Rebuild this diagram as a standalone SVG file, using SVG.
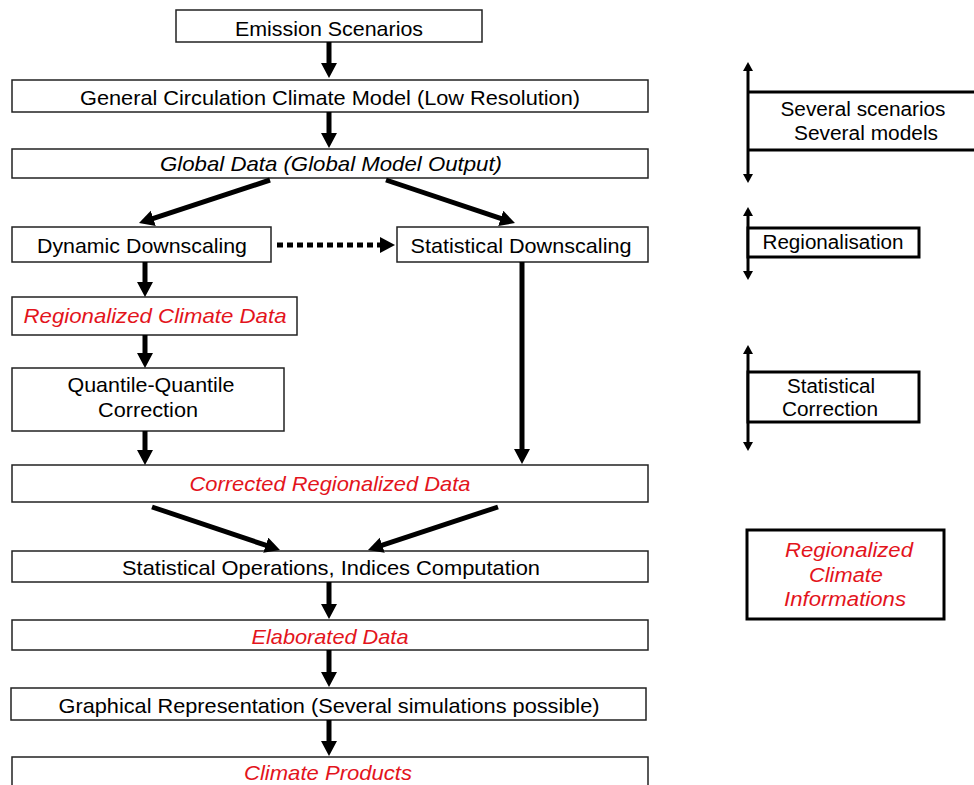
<svg xmlns="http://www.w3.org/2000/svg" width="974" height="785" viewBox="0 0 974 785">
<defs>
<style>
.box{fill:#fff;stroke:#222;stroke-width:1.5}
.rbox{fill:#fff;stroke:#000;stroke-width:3}
.t{font-family:"Liberation Sans",Arial,sans-serif;font-size:20px;fill:#000;text-anchor:middle}
.l{font-size:21px}
.i{font-style:italic}
.red{fill:#e3141c}
.arr{stroke:#000;stroke-width:5;fill:none;marker-end:url(#ah)}
.dot{stroke:#000;stroke-width:5;fill:none;stroke-dasharray:6 4;marker-end:url(#ah)}
.sarr{stroke:#000;stroke-width:3;fill:none;marker-end:url(#sm);marker-start:url(#sm)}
</style>
<marker id="ah" markerUnits="userSpaceOnUse" markerWidth="18" markerHeight="18" refX="3" refY="8" orient="auto"><path d="M0,0 L15,8 L0,16 z" fill="#000"/></marker>
<marker id="sm" markerUnits="userSpaceOnUse" markerWidth="12" markerHeight="12" refX="2" refY="5" orient="auto-start-reverse"><path d="M0,0 L9,5 L0,10 z" fill="#000"/></marker>
</defs>
<rect width="974" height="785" fill="#fff"/>

<g id="emission"><rect class="box" x="176" y="10" width="306" height="32"/><text class="t l" x="329" y="36" textLength="188" lengthAdjust="spacingAndGlyphs">Emission Scenarios</text></g>
<g id="gcm"><rect class="box" x="12" y="80" width="636" height="32"/><text class="t l" x="330" y="105" textLength="500" lengthAdjust="spacingAndGlyphs">General Circulation Climate Model (Low Resolution)</text></g>
<g id="global"><rect class="box" x="12" y="149" width="636" height="29"/><text class="t l i" x="331" y="171" textLength="342" lengthAdjust="spacingAndGlyphs">Global Data (Global Model Output)</text></g>
<g id="dynamic"><rect class="box" x="12" y="227" width="259" height="35"/><text class="t l" x="142" y="253" textLength="210" lengthAdjust="spacingAndGlyphs">Dynamic Downscaling</text></g>
<g id="statdown"><rect class="box" x="397" y="227" width="251" height="35"/><text class="t l" x="521" y="253" textLength="221" lengthAdjust="spacingAndGlyphs">Statistical Downscaling</text></g>
<g id="regdata"><rect class="box" x="12" y="297" width="285" height="38"/><text class="t l i red" x="155" y="323" textLength="263" lengthAdjust="spacingAndGlyphs">Regionalized Climate Data</text></g>
<g id="qq"><rect class="box" x="12" y="368" width="272" height="63"/><text class="t l" x="151" y="392" textLength="167" lengthAdjust="spacingAndGlyphs">Quantile-Quantile</text><text class="t l" x="148" y="417" textLength="100" lengthAdjust="spacingAndGlyphs">Correction</text></g>
<g id="corrected"><rect class="box" x="12" y="465" width="636" height="37"/><text class="t l i red" x="330" y="491" textLength="281" lengthAdjust="spacingAndGlyphs">Corrected Regionalized Data</text></g>
<g id="statops"><rect class="box" x="12" y="551" width="636" height="31"/><text class="t l" x="331" y="575" textLength="418" lengthAdjust="spacingAndGlyphs">Statistical Operations, Indices Computation</text></g>
<g id="elaborated"><rect class="box" x="12" y="620" width="636" height="30"/><text class="t l i red" x="330" y="644" textLength="157" lengthAdjust="spacingAndGlyphs">Elaborated Data</text></g>
<g id="graphical"><rect class="box" x="11" y="688" width="635" height="32"/><text class="t l" x="329" y="713" textLength="541" lengthAdjust="spacingAndGlyphs">Graphical Representation (Several simulations possible)</text></g>
<g id="products"><rect class="box" x="12" y="757" width="636" height="40"/><text class="t l i red" x="328" y="780" textLength="168" lengthAdjust="spacingAndGlyphs">Climate Products</text></g>

<g id="connectors">
<line class="arr" x1="329" y1="42" x2="329" y2="66"/>
<line class="arr" x1="329" y1="112" x2="329" y2="136"/>
<line class="arr" x1="270" y1="180" x2="150.4" y2="219.3"/>
<line class="arr" x1="386" y1="180" x2="503.6" y2="219.3"/>
<line class="dot" x1="277" y1="245" x2="383" y2="245"/>
<line class="arr" x1="145" y1="262" x2="145" y2="285"/>
<line class="arr" x1="145" y1="335" x2="145" y2="356"/>
<line class="arr" x1="145" y1="431" x2="145" y2="453"/>
<line class="arr" x1="522" y1="262" x2="522" y2="452"/>
<line class="arr" x1="152" y1="507" x2="268.6" y2="546.2"/>
<line class="arr" x1="498" y1="507" x2="379.4" y2="546.2"/>
<line class="arr" x1="329" y1="582" x2="329" y2="607"/>
<line class="arr" x1="329" y1="650" x2="329" y2="675"/>
<line class="arr" x1="329" y1="720" x2="329" y2="744"/>
<line class="sarr" x1="748" y1="69" x2="748" y2="176"/>
<line class="sarr" x1="748" y1="214" x2="748" y2="273"/>
<line class="sarr" x1="748" y1="352" x2="748" y2="444"/>
</g>

<g id="scenarios">
<line x1="748" y1="92" x2="974" y2="92" stroke="#000" stroke-width="3"/>
<line x1="748" y1="150" x2="974" y2="150" stroke="#000" stroke-width="3"/>
<text class="t" x="863" y="116" textLength="165" lengthAdjust="spacingAndGlyphs">Several scenarios</text>
<text class="t" x="866" y="140" textLength="144" lengthAdjust="spacingAndGlyphs">Several models</text>
</g>
<g id="regionalisation"><rect class="rbox" x="748" y="228" width="171" height="29"/><text class="t" x="833" y="249" textLength="141" lengthAdjust="spacingAndGlyphs">Regionalisation</text></g>
<g id="statcorr"><rect class="rbox" x="748" y="372" width="171" height="50"/><text class="t" x="831" y="393" textLength="88" lengthAdjust="spacingAndGlyphs">Statistical</text><text class="t" x="830" y="416" textLength="96" lengthAdjust="spacingAndGlyphs">Correction</text></g>
<g id="regclim"><rect class="rbox" x="747" y="530" width="197" height="89"/>
<text class="t i red" x="849" y="557" textLength="128" lengthAdjust="spacingAndGlyphs">Regionalized</text>
<text class="t i red" x="846" y="582" textLength="74" lengthAdjust="spacingAndGlyphs">Climate</text>
<text class="t i red" x="845" y="606" textLength="122" lengthAdjust="spacingAndGlyphs">Informations</text>
</g>
</svg>
